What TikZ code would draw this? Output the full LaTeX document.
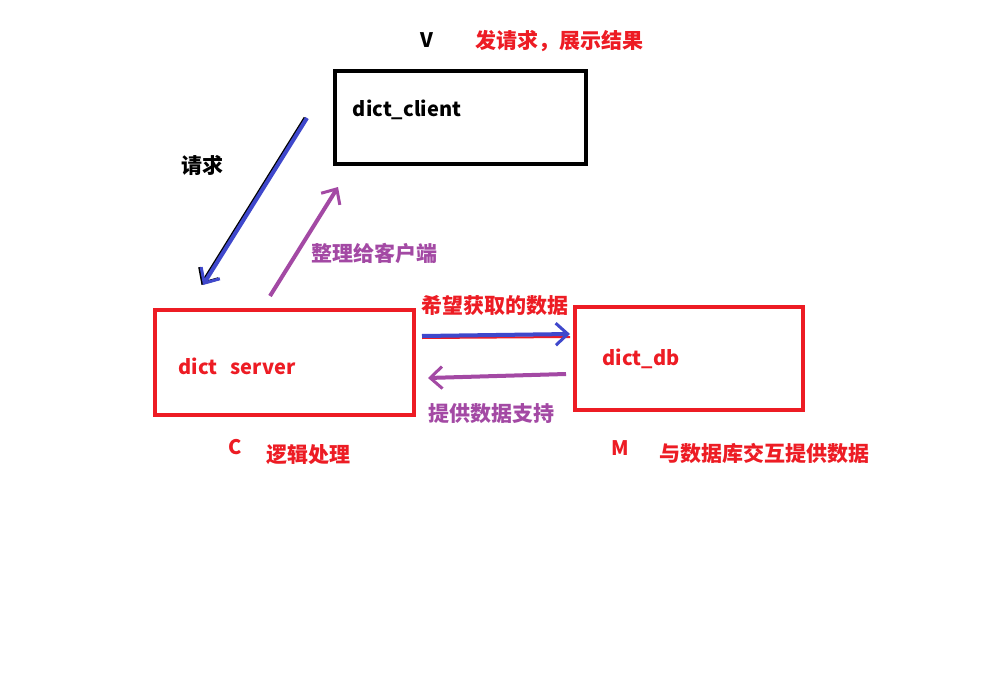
\documentclass[tikz,border=0pt]{standalone}
\usepackage{fontspec}
\setmainfont{Noto Sans CJK SC}
\usetikzlibrary{arrows.meta}
\definecolor{pred}{HTML}{ED1C24}
\definecolor{ppur}{HTML}{A349A4}
\definecolor{pblue}{HTML}{3F48CC}
\tikzset{
  box/.style={draw, line width=4pt, inner sep=0pt},
  lbl/.style={font=\fontsize{21}{24}\selectfont\bfseries, inner sep=0pt, anchor=center},
  lat/.style={font=\fontsize{20}{24}\selectfont\bfseries, inner sep=0pt, anchor=center},
  arr/.style={line width=4pt, -{Straight Barb[length=12pt,width=22pt,line width=3pt]}},
}
\begin{document}
\begin{tikzpicture}[x=1pt,y=-1pt]
\useasboundingbox (0,0) rectangle (1003,682);
\fill[white] (0,0) rectangle (1003,682);
% boxes
\node[box, black, minimum width=251pt, minimum height=93pt] (client) at (460.5,117.5) {};
\node[box, pred, minimum width=259pt, minimum height=105pt] (server) at (284.5,362.5) {};
\node[box, pred, minimum width=228pt, minimum height=103pt] (db) at (689,358.5) {};
% box texts
\node[lat, black] (tclient) at (407,110) {dict\_client};
\node[lat, pred] (tserver) at (237,366) {dict\hspace{13pt}server};
\node[lat, pred] (tdb) at (641,359) {dict\_db};
% labels
\node[lat, black] (V) at (427,40) {V};
\node[lbl, pred] (vdesc) at (559,41) {发请求，展示结果};
\node[lbl, black] (req) at (202,165) {请求};
\node[lbl, ppur] (arrange) at (374,253) {整理给客户端};
\node[lbl, pred] (want) at (495,306) {希望获取的数据};
\node[lbl, ppur] (provide) at (491,414) {提供数据支持};
\node[lat, pred] (C) at (235,447) {C};
\node[lbl, pred] (cdesc) at (308,455) {逻辑处理};
\node[lat, pred] (M) at (620,448) {M};
\node[lbl, pred] (mdesc) at (764,453) {与数据库交互提供数据};
% arrow anchors
\coordinate (a1s) at (307,118);
\coordinate (a1e) at (203,285);
\coordinate (a2s) at (270,296);
\coordinate (a2e) at (338,187);
\coordinate (a3s) at (422,336);
\coordinate (a3e) at (570,334);
\coordinate (a4s) at (566,374);
\coordinate (a4e) at (428,378);
% arrows
\draw[arr, black] ([xshift=-1.5pt]a1s) -- ([xshift=-1.5pt]a1e);
\draw[arr, pblue] (a1s) -- (a1e);
\draw[arr, ppur] (a2s) -- (a2e);
\draw[line width=2pt, pred] ([yshift=-2pt]a3s) -- ([yshift=-3pt]a3e);
\draw[arr, pblue] (a3s) -- (a3e);
\draw[arr, ppur] (a4s) -- (a4e);
\end{tikzpicture}
\end{document}
